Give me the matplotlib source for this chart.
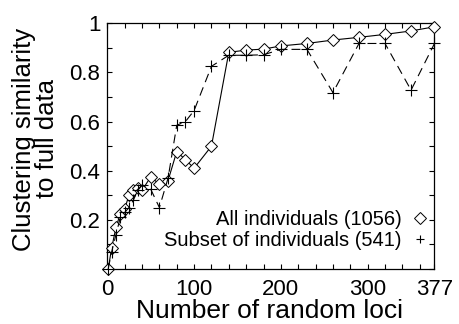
import matplotlib
matplotlib.use("Agg")
import matplotlib.pyplot as plt
import numpy as np

plt.rcParams['font.family'] = ['Liberation Sans', 'DejaVu Sans']

loci = [1, 5, 10, 15, 20, 25, 30, 35, 40, 50, 60, 70, 80, 90, 100, 120,
        140, 160, 180, 200, 230, 260, 290, 320, 350, 377]
all_ind = [0.0, 0.085, 0.17, 0.225, 0.245, 0.30, 0.32, 0.33, 0.32, 0.375, 0.345, 0.36,
           0.478, 0.445, 0.41, 0.50, 0.882, 0.891, 0.895, 0.908, 0.918, 0.932,
           0.943, 0.955, 0.969, 0.986]
subset = [0.0, 0.07, 0.14, 0.21, 0.23, 0.25, 0.28, 0.32, 0.34, 0.325, 0.25, 0.37,
          0.585, 0.60, 0.645, 0.825, 0.87, 0.87, 0.872, 0.894, 0.894, 0.718,
          0.918, 0.918, 0.728, 0.918]

label_all = "All individuals (1056)"
label_sub = "Subset of individuals (541)"
xlabel = "Number of random loci"
ylabel = "Clustering similarity\nto full data"
xtick_major = [0, 100, 200, 300, 377]
ytick_labels = {0.2: "0.2", 0.4: "0.4", 0.6: "0.6", 0.8: "0.8", 1.0: "1"}

W, H = 459, 324
fig = plt.figure(figsize=(W / 100, H / 100), dpi=100)
ax = fig.add_axes([0.2338, 0.1698, 0.9466 - 0.2338, 0.928 - 0.1698])

ax.plot(loci, all_ind, color='black', linewidth=0.8, marker='D', markersize=6,
        markerfacecolor='white', markeredgecolor='black', markeredgewidth=0.7,
        label=label_all, clip_on=False, zorder=3)
ax.plot(loci, subset, color='black', linewidth=0.8, linestyle=(0, (8, 5)), marker='+',
        markersize=9, markeredgewidth=0.8, label=label_sub, clip_on=False, zorder=3)

ax.set_xlim(0, 377)
ax.set_ylim(0, 1)

xt = sorted(set(list(range(0, 361, 20)) + xtick_major))
ax.set_xticks(xt)
ax.set_xticklabels([str(v) if v in xtick_major else "" for v in xt])
yt = [round(v, 1) for v in np.arange(0, 1.01, 0.1)]
ax.set_yticks(yt)
ax.set_yticklabels([ytick_labels.get(v, "") for v in yt])

ax.tick_params(direction='in', length=3.5, width=0.8, top=True, right=True,
               labelsize=16)
ax.tick_params(axis='x', pad=7)
ax.tick_params(axis='y', pad=5)
for s in ax.spines.values():
    s.set_linewidth(0.9)

fig.text(270 / W, 1 - 318 / H, xlabel, fontsize=19, ha='center', va='baseline')
fig.text(35.5 / W, 1 - 139 / H, ylabel, fontsize=18.5, ha='center', va='center',
         rotation=90, multialignment='center', linespacing=0.95)

leg = ax.legend(loc='lower right', frameon=False, markerfirst=False, fontsize=14.5,
                handlelength=0.9, handletextpad=0.45, labelspacing=0.1,
                borderaxespad=0.0, bbox_to_anchor=(1.0076, 0.043))
for h in leg.legend_handles:
    h.set_linestyle('none')
    h.set_markersize(6)

fig.savefig("out.png", dpi=100)
